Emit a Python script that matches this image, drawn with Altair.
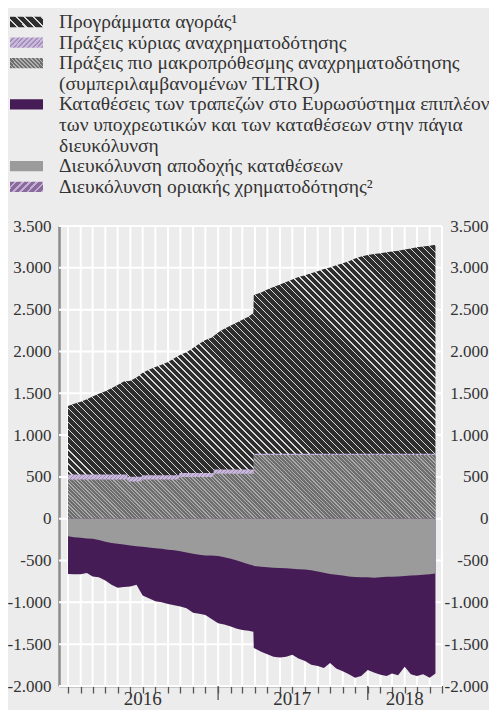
import altair as alt
import pandas as pd

# ---------------- data (EUR bn) ----------------
dates = [
    "2016-01-01", "2016-01-16", "2016-02-01", "2016-02-16", "2016-03-01", "2016-03-16",
    "2016-04-01", "2016-04-16", "2016-05-01", "2016-05-16", "2016-06-01", "2016-06-16",
    "2016-07-01", "2016-07-16", "2016-08-01", "2016-08-16", "2016-09-01", "2016-09-16",
    "2016-10-01", "2016-10-16", "2016-11-01", "2016-11-16", "2016-12-01", "2016-12-16",
    "2017-01-01", "2017-01-16", "2017-02-01", "2017-02-16", "2017-03-01", "2017-03-16",
    "2017-03-28", "2017-03-29", "2017-04-16", "2017-05-01", "2017-05-16", "2017-06-01",
    "2017-06-16", "2017-07-01", "2017-07-16", "2017-08-01", "2017-08-16", "2017-09-01",
    "2017-09-16", "2017-10-01", "2017-10-16", "2017-11-01", "2017-11-16", "2017-12-01",
    "2017-12-16", "2018-01-01", "2018-01-16", "2018-02-01", "2018-02-16", "2018-03-01",
    "2018-03-16", "2018-04-01", "2018-04-16", "2018-05-01", "2018-05-16", "2018-06-01",
    "2018-06-15",
]
purchases = [
    817, 845, 870, 900, 930, 965, 995, 1030, 1070, 1110, 1148, 1185,
    1225, 1262, 1295, 1322, 1355, 1398, 1412, 1442, 1492, 1545, 1590, 1615,
    1638, 1681, 1721, 1756, 1791, 1826, 1871, 1898, 1928, 1963, 1993, 2023,
    2053, 2083, 2113, 2133, 2158, 2183, 2208, 2228, 2253, 2278, 2303, 2333,
    2358, 2376, 2388, 2398, 2408, 2418, 2428, 2443, 2455, 2468, 2478, 2488,
    2498,
]
deposit_facility = [
    210, 220, 228, 235, 240, 255, 275, 290, 300, 308, 320, 330,
    336, 345, 352, 360, 370, 378, 390, 405, 420, 430, 440, 440,
    445, 460, 480, 500, 520, 545, 560, 565, 575, 580, 585, 588,
    592, 598, 605, 608, 615, 630, 645, 660, 670, 680, 690, 698,
    700, 700, 705, 700, 695, 693, 690, 685, 680, 675, 670, 665,
    655,
]
excess_reserves = [
    450, 445, 437, 413, 450, 445, 465, 500, 526, 507, 490, 460,
    582, 605, 634, 640, 650, 657, 660, 665, 705, 705, 710, 760,
    805, 805, 810, 815, 810, 795, 790, 980, 1015, 1040, 1065, 1072,
    1058, 1027, 1065, 1092, 1130, 1130, 1140, 1065, 1120, 1145, 1170, 1202,
    1180, 1110, 1135, 1165, 1185, 1157, 1180, 1085, 1180, 1205, 1190, 1235,
    1195,
]
# refinancing operations change on allotment dates (step series)
step_dates = ["2016-01-01", "2016-05-25", "2016-06-29", "2016-09-28",
              "2016-12-21", "2017-03-29", "2018-06-15"]
ltro = [470, 445, 470, 500, 537, 762, 762]
mro = [60, 58, 50, 48, 52, 15, 15]

legend_lines = [
    "Προγράμματα αγοράς¹",
    "Πράξεις κύριας αναχρηματοδότησης",
    "Πράξεις πιο μακροπρόθεσμης αναχρηματοδότησης",
    "(συμπεριλαμβανομένων TLTRO)",
    "Καταθέσεις των τραπεζών στο Ευρωσύστημα επιπλέον",
    "των υποχρεωτικών και των καταθέσεων στην πάγια",
    "διευκόλυνση",
    "Διευκόλυνση αποδοχής καταθέσεων",
    "Διευκόλυνση οριακής χρηματοδότησης²",
]
legend_swatch_line = [0, 1, 2, 4, 7, 8]

year_label_dates = ["2016-07-01", "2017-07-01", "2018-04-01"]
year_labels = ["2016", "2017", "2018"]
year_tick_dates = ["2017-01-01", "2018-01-01"]

y_ticks = [-2000, -1500, -1000, -500, 0, 500, 1000, 1500, 2000, 2500, 3000, 3500]
month_grid = list(pd.date_range("2016-01-01", "2018-07-01", freq="MS").strftime("%Y-%m-%d"))

# ---------------- layout / style ----------------
W, H = 383, 460
Y0, Y1 = -2000, 3500
DOM0, DOM1 = "2015-12-10", "2018-07-01"
FONT = "Liberation Serif"
TXT = "#333333"
BG = "#ececec"

main = pd.DataFrame({
    "date": pd.to_datetime(dates),
    "P": purchases, "D": deposit_facility, "E": excess_reserves,
})
steps = pd.DataFrame({"date": pd.to_datetime(step_dates), "L": ltro, "M": mro})
main = pd.merge_asof(main.sort_values("date"), steps, on="date")
main["top_p"] = main["P"] + main["L"] + main["M"]
main["bot_e"] = -(main["D"] + main["E"])
main["bot_d"] = -main["D"]
steps["top_m"] = steps["L"] + steps["M"]
steps["top_l"] = steps["L"]

d0, d1 = pd.Timestamp(DOM0), pd.Timestamp(DOM1)


def xpx(d):
    return (pd.Timestamp(d) - d0) / (d1 - d0) * W


def ypx(v):
    return (Y1 - v) / (Y1 - Y0) * H


def stripes(w, h, period, bg, fg, frac, direction):
    n = max(1, round((w + h) / period))
    t = 0.5 * (w + h) / (w * w + h * h)
    gx, gy = (w, -h) if direction == "back" else (w, h)
    x1, y1 = 0.5 - t * gx, 0.5 - t * gy
    x2, y2 = 0.5 + t * gx, 0.5 + t * gy
    st = []
    for i in range(n):
        a = i / n
        b = (i + 1 - frac) / n
        c = (i + 1) / n
        st += [(a, bg), (b, bg), (b, fg), (c, fg)]
    return {
        "gradient": "linear",
        "x1": round(x1, 5), "y1": round(y1, 5), "x2": round(x2, 5), "y2": round(y2, 5),
        "stops": [{"offset": round(o, 5), "color": c} for o, c in st],
    }


wspan = xpx(dates[-1]) - xpx(dates[0])
g_purch = stripes(wspan, ypx(0) - ypx(main["top_p"].max()), 7.0, "#2e2e2e", "#d9d9d9", 0.2, "back")
g_mro = stripes(wspan, ypx(0) - ypx(steps["top_m"].max()), 4.0, "#c9b9da", "#a58dbb", 0.35, "fwd")
g_ltro = stripes(wspan, ypx(0) - ypx(steps["top_l"].max()), 3.7, "#6e6e6e", "#ababab", 0.35, "back")

for df in (main, steps):
    df["date"] = df["date"].dt.strftime("%Y-%m-%d")

xscale = alt.Scale(type="utc", domain=[alt.DateTime(year=2015, month=12, date=10, utc=True),
                                       alt.DateTime(year=2018, month=7, date=1, utc=True)])
xaxis = alt.Axis(title=None, labels=False, tickCount=alt.TimeIntervalStep(interval="month", step=1),
                 grid=False, domainColor="#555555", domainWidth=1.5,
                 tickColor="#555555", tickWidth=1.3, tickSize=7)
X = alt.X("date:T", scale=xscale, axis=xaxis)

fmt = "(datum.value < 0 ? '-' : '') + replace(format(abs(datum.value), ','), ',', '.')"
yscale = alt.Scale(domain=[Y0, Y1], nice=False, zero=False)
yaxis_left = alt.Axis(title=None, values=y_ticks, labelExpr=fmt, grid=False,
                      ticks=False, domainColor="#8c8c8c", domainWidth=2.5,
                      labelFont=FONT, labelFontSize=17, labelColor=TXT, labelPadding=8)
yaxis_right = alt.Axis(title=None, orient="right", values=y_ticks, labelExpr=fmt, grid=False,
                       ticks=False, domainColor="#222222", domainWidth=1, labelAlign="right",
                       labelFont=FONT, labelFontSize=17, labelColor=TXT, labelPadding=46)
Y = lambda f: alt.Y(f, scale=yscale, axis=yaxis_left)

# grid drawn as white rules behind the data
g_v = alt.Chart(pd.DataFrame({"date": month_grid})).mark_rule(color="#ffffff", strokeWidth=2).encode(x=X)
g_h = alt.Chart(pd.DataFrame({"v": y_ticks})).mark_rule(color="#ffffff", strokeWidth=2).encode(y=Y("v:Q"))

base = alt.Chart(main)
a_purch = base.mark_area(fill=g_purch).encode(x=X, y=Y("top_p:Q"), y2=alt.datum(0))
a_mro = alt.Chart(steps).mark_area(fill=g_mro, interpolate="step-after").encode(
    x=X, y=Y("top_m:Q"), y2=alt.datum(0))
a_ltro = alt.Chart(steps).mark_area(fill=g_ltro, interpolate="step-after").encode(
    x=X, y=Y("top_l:Q"), y2=alt.datum(0))
a_exc = base.mark_area(fill="#461c57").encode(x=X, y=Y("bot_e:Q"), y2=alt.datum(0))
a_df = base.mark_area(fill="#9b9b9b").encode(x=X, y=Y("bot_d:Q"), y2=alt.datum(0))

years = pd.DataFrame({"date": year_label_dates, "label": year_labels})
t_years = alt.Chart(years).mark_text(font=FONT, fontSize=19, color=TXT, baseline="alphabetic").encode(
    x=X, y=alt.value(H + 19), text="label:N")
yticks_df = pd.DataFrame({"date": year_tick_dates})
r_years = alt.Chart(yticks_df).mark_rule(color="#555555", strokeWidth=1.3).encode(
    x=X, y=alt.value(H), y2=alt.value(H + 14))

main_layer = alt.layer(g_v, g_h, a_purch, a_mro, a_ltro, a_exc, a_df, r_years, t_years)

right_layer = alt.Chart(pd.DataFrame({"v": [Y0, Y1]})).mark_rule(opacity=0).encode(
    y=alt.Y("v:Q", scale=alt.Scale(domain=[Y0, Y1], nice=False, zero=False), axis=yaxis_right))

# ---------------- legend ----------------
lscale = alt.Scale(domain=[0, 8], range=[-204, -39.2], nice=False, zero=False)
sw_fills = [
    stripes(33, 10, 8.0, "#2e2e2e", "#d9d9d9", 0.25, "back"),
    stripes(33, 10, 4.6, "#c9b9da", "#a58dbb", 0.4, "fwd"),
    stripes(33, 10, 4.0, "#6e6e6e", "#b0b0b0", 0.4, "back"),
    "#461c57",
    "#9b9b9b",
    stripes(33, 10, 7.0, "#8a6a9c", "#c2aed0", 0.35, "fwd"),
]
legend_parts = []
for ln, fill in zip(legend_swatch_line, sw_fills):
    sdf = pd.DataFrame({"lo": [ln - 0.25], "hi": [ln + 0.25]})
    legend_parts.append(alt.Chart(sdf).mark_rect(fill=fill).encode(
        x=alt.value(-49), x2=alt.value(-16),
        y=alt.Y("lo:Q", scale=lscale, axis=None), y2="hi:Q"))
ldf = pd.DataFrame({"line": list(range(len(legend_lines))), "text": legend_lines})
legend_parts.append(alt.Chart(ldf).mark_text(font=FONT, fontSize=19.5, color=TXT, align="left",
                                             baseline="middle").encode(
    x=alt.value(0), y=alt.Y("line:Q", scale=lscale, axis=None), text="text:N"))
legend_layer = alt.layer(*legend_parts)

chart = alt.layer(main_layer, right_layer, legend_layer).resolve_scale(y="independent").properties(
    width=W, height=H,
    autosize=alt.AutoSizeParams(type="none"),
    padding={"left": 51, "top": 218, "right": 47, "bottom": 24},
    background=BG,
).configure_view(strokeWidth=0)

chart.save("out.html", embed_options={"renderer": "svg", "actions": False})
